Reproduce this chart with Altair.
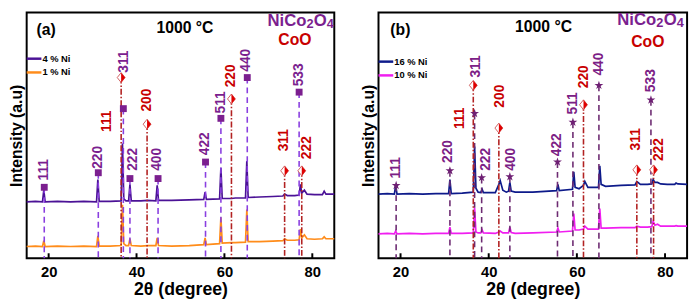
import altair as alt
import pandas as pd

FONT = "Liberation Sans"

# ---------------- spectra (2theta in degrees, intensity in a.u.) ----------------
a4_tt = [15, 17, 18.6, 18.9, 19.2, 22, 25, 28, 30.9, 31.2, 31.5, 34, 36.5, 36.8, 37.1, 37.6, 38.2, 38.5, 38.8,
         41, 42.5, 44.4, 44.7, 45.0, 48, 52, 55.3, 55.6, 55.9, 58.9, 59.2, 59.5, 61.6, 62.5, 64.8, 65.1, 65.4,
         68, 71, 73.3, 73.7, 74.3, 76, 77.0, 77.3, 77.6, 78.2, 78.8, 80.5, 82.3, 82.7, 83.1, 85]
a4_I = [58, 58.5, 58, 70, 58, 58.5, 58, 58.5, 58, 81, 58.5, 58.5, 59, 118, 61, 59, 59, 76, 59,
        59, 59.5, 59, 75, 59.5, 59.5, 60, 60.5, 68, 60.5, 61, 93, 61.5, 61.5, 62, 62, 100, 62.5,
        63, 63.5, 64, 66, 64.5, 64.5, 65, 76, 67, 70, 66, 65.5, 65.5, 69, 66, 66]

a1_tt = a4_tt
a1_I = [12, 12.5, 12, 18, 12, 12.5, 12, 12.5, 12, 23, 12.5, 12.5, 13, 55, 15, 13, 13, 20, 13,
        12.5, 13, 13, 21, 13, 12.5, 13, 14, 21, 14, 15, 42, 15.5, 16, 16, 16.5, 50, 17,
        17, 17.5, 18, 20, 18.5, 18.5, 19, 30, 21, 24, 20, 19.5, 20, 22, 20, 20]

b16_tt = [15, 17, 18.6, 18.9, 19.2, 22, 25, 28, 30.9, 31.2, 31.5, 34, 36.5, 36.8, 37.1, 37.6, 38.2, 38.5, 38.8,
          41.5, 42.3, 42.6, 43.2, 44.0, 44.5, 44.8, 45.1, 46, 50, 55.4, 55.7, 56.0, 59.0, 59.3, 59.6, 60.5,
          61.5, 61.8, 62.5, 64.9, 65.2, 65.5, 66.5, 70, 73.2, 73.6, 74.4, 76, 77.0, 77.3, 77.7, 78.3, 79,
          80.5, 82.2, 82.5, 82.9, 85]
b16_I = [66, 66.5, 66, 75, 66, 66.5, 66, 66.5, 66.5, 81, 66.5, 67, 68, 115, 72, 68, 67.5, 71, 67.5,
         67.5, 76, 80, 70, 68, 69, 78, 69, 68, 68, 69.5, 76, 69.5, 71, 89, 73, 71.5,
         75, 79, 73, 73, 95, 76, 74, 75, 75.5, 79, 76, 76, 76.5, 81, 78, 78, 76.5,
         76, 76, 77.5, 76.5, 76]

b10_tt = b16_tt
b10_I = [25, 25.5, 25, 28, 25, 25.5, 25, 25.5, 25.5, 32, 25.5, 25.5, 26, 52, 27, 26, 26, 29, 26,
         25.5, 27, 28, 26, 26, 26, 32, 26.5, 25.5, 26, 27, 31, 27, 28, 46, 29, 29,
         30, 33, 30, 30, 51, 31, 31, 31.5, 31.5, 33, 32, 32, 32.5, 38, 34, 35, 33,
         33, 33, 33.5, 33, 33]

series_a = ["4 % Ni", "1 % Ni"]
series_b = ["16 % Ni", "10 % Ni"]

# ---------------- reference peaks ----------------
nco_labels = ["111", "220", "311", "222", "400", "422", "511", "440", "533"]
coo_labels = ["111", "200", "220", "311", "222"]

a_nco_pos = [19.0, 31.3, 37.0, 38.5, 44.9, 55.7, 59.2, 65.2, 77.0]
a_nco_h = [73, 88, 154, 82, 82, 99, 144, 186, 171]
a_nco_lx = [19.0, 31.3, 37.1, 39.1, 44.6, 55.7, 59.2, 65.0, 77.0]
a_nco_ly = [80, 92, 191, 90, 90, 106, 149, 192, 177]
a_coo_pos = [36.5, 42.4, 61.6, 73.7, 77.6]
a_coo_h = [186, 138, 164, 90, 90]
a_coo_lx = [33.3, 42.5, 61.5, 73.6, 78.7]
a_coo_ly = [130, 151, 176, 110, 102]

b_nco_pos = [19.0, 31.2, 36.8, 38.4, 44.8, 55.6, 59.1, 65.0, 76.8]
b_nco_h = [75, 90, 149, 83, 84, 99, 140, 178, 163]
b_nco_lx = [19.0, 30.7, 37.2, 39.3, 45.0, 55.6, 59.1, 65.1, 76.8]
b_nco_ly = [82, 98, 186, 90, 90, 105, 148, 188, 171]
b_coo_pos = [36.5, 42.3, 61.5, 73.6, 77.4]
b_coo_h = [178, 134, 158, 91, 91]
b_coo_lx = [33.5, 42.6, 61.6, 73.4, 78.6]
b_coo_ly = [133, 155, 175, 111, 100]

tick_values = [20, 40, 60, 80]

# ---------------- styling ----------------
W_A, W_B, H = 313, 314, 250
XS = alt.Scale(domain=[15, 85], nice=False, zero=False)
YS = alt.Scale(domain=[0, 253], nice=False, zero=False)
X_TITLE = "2θ (degree)"
Y_TITLE = "Intensity (a.u)"
X_AXIS = alt.Axis(values=tick_values, ticks=False, domain=False, grid=False,
                  labelFont=FONT, labelFontSize=15, labelFontWeight="bold",
                  labelColor="black", labelPadding=7, titleFont=FONT,
                  titleFontSize=18, titleFontWeight="bold", titleColor="black",
                  titlePadding=1)
Y_AXIS = alt.Axis(labels=False, ticks=False, domain=False, grid=False,
                  titleFont=FONT, titleFontSize=16, titleFontWeight="bold",
                  titleColor="black", titlePadding=2)

DIAMOND = "M0,-1L0.8,0L0,1L-0.8,0Z"
HALF_DIAMOND = "M0,-1L0.8,0L0,1Z"
STAR = ("M0,-1L0.225,-0.309L0.951,-0.309L0.363,0.118L0.588,0.809L0,0.382"
        "L-0.588,0.809L-0.363,0.118L-0.951,-0.309L-0.225,-0.309Z")

RED_LINE = "#B22222"
RED_TXT = "#C80000"
RED_FILL = "#E00000"
NCO_TXT = "#7B1F8F"


def xq(f):
    return alt.X(f, scale=XS, title=X_TITLE, axis=X_AXIS)


def yq(f):
    return alt.Y(f, scale=YS, title=Y_TITLE, axis=Y_AXIS)


def one(text=""):
    return pd.DataFrame({"t": [text]})


def txt(text, x, y, size, color, align="left"):
    return alt.Chart(one()).mark_text(align=align, baseline="middle", font=FONT, fontSize=size,
                                      fontWeight="bold", color=color, text=text).encode(
        x=alt.value(x), y=alt.value(y))


def panel(tag, width, s_names, s_colors, spectra, nco, coo, nco_style, legend_y, pos):
    df = pd.concat([
        pd.DataFrame({"tt": spectra[0][0], "I": spectra[0][1], "s": s_names[0]}),
        pd.DataFrame({"tt": spectra[1][0], "I": spectra[1][1], "s": s_names[1]}),
    ])
    lines = alt.Chart(df).mark_line(strokeWidth=1.7).encode(
        x=xq("tt:Q"), y=yq("I:Q"),
        color=alt.Color("s:N", scale=alt.Scale(domain=s_names, range=s_colors), legend=None),
        detail="s:N",
    )

    nco_df = pd.DataFrame({"pos": nco[0], "h": nco[1], "lx": nco[2], "ly": nco[3], "lab": nco_labels})
    coo_df = pd.DataFrame({"pos": coo[0], "h": coo[1], "lx": coo[2], "ly": coo[3], "lab": coo_labels})

    nco_rule = alt.Chart(nco_df).mark_rule(color=nco_style["line"], strokeWidth=1.6,
                                          strokeDash=[6, 4]).encode(
        x=xq("pos:Q"), y=yq("h:Q"), y2=alt.datum(0))
    coo_rule = alt.Chart(coo_df).mark_rule(color=RED_LINE, strokeWidth=1.6,
                                          strokeDash=[6, 2, 1.5, 2]).encode(
        x=xq("pos:Q"), y=yq("h:Q"), y2=alt.datum(0))

    nco_pt = alt.Chart(nco_df).mark_point(shape=nco_style["shape"], filled=True, opacity=1,
                                          size=nco_style["size"], color=nco_style["marker"]).encode(
        x=xq("pos:Q"), y=yq("h:Q"))
    coo_pt = alt.Chart(coo_df).mark_point(shape=DIAMOND, filled=True, opacity=1, size=100,
                                          fill="white", stroke="#D06060", strokeWidth=1).encode(
        x=xq("pos:Q"), y=yq("h:Q"))
    coo_half = alt.Chart(coo_df).mark_point(shape=HALF_DIAMOND, filled=True, opacity=1, size=100,
                                            color=RED_FILL).encode(
        x=xq("pos:Q"), y=yq("h:Q"))

    nco_txt = alt.Chart(nco_df).mark_text(angle=270, align="left", baseline="middle", font=FONT,
                                          fontSize=14, fontWeight="bold",
                                          color=nco_style["text"]).encode(
        x=xq("lx:Q"), y=yq("ly:Q"), text="lab:N")
    coo_txt = alt.Chart(coo_df).mark_text(angle=270, align="left", baseline="middle", font=FONT,
                                          fontSize=14, fontWeight="bold", color=RED_TXT).encode(
        x=xq("lx:Q"), y=yq("ly:Q"), text="lab:N")

    ticks = alt.Chart(pd.DataFrame({"v": tick_values})).mark_rule(color="black", strokeWidth=2).encode(
        x=xq("v:Q"), y=alt.value(H), y2=alt.value(H - 5))

    nx, ny = pos["nco"]
    deco = [
        txt(tag, pos["tag"][0], pos["tag"][1], 16, "black"),
        txt("1000 °C", pos["temp"][0], pos["temp"][1], 16, "black", "center"),
        txt("NiCo", nx, ny, 17, NCO_TXT),
        txt("2", nx + 39.7, ny + 3, 13, NCO_TXT),
        txt("O", nx + 47.2, ny, 17, NCO_TXT),
        txt("4", nx + 60.4, ny + 3, 13, NCO_TXT),
        txt("CoO", pos["coo"][0], pos["coo"][1], 16, RED_TXT, "center"),
    ]
    for i in range(2):
        yy = legend_y + 14 * i
        deco.append(alt.Chart(one()).mark_rule(color=s_colors[i], strokeWidth=2.5).encode(
            x=alt.value(0), x2=alt.value(15), y=alt.value(yy)))
        deco.append(alt.Chart(one(s_names[i])).mark_text(align="left", baseline="middle", font=FONT,
                                                         fontSize=9.5, fontWeight="bold",
                                                         color="black").encode(
            x=alt.value(16), y=alt.value(yy), text="t:N"))

    return alt.layer(lines, nco_rule, coo_rule, nco_pt, coo_pt, coo_half, nco_txt, coo_txt, ticks,
                     *deco).properties(width=width, height=H)


panel_a = panel("(a)", W_A, series_a, ["#4B1296", "#FF8C1A"],
                [(a4_tt, a4_I), (a1_tt, a1_I)],
                (a_nco_pos, a_nco_h, a_nco_lx, a_nco_ly),
                (a_coo_pos, a_coo_h, a_coo_lx, a_coo_ly),
                {"line": "#8A3FE0", "shape": "square", "size": 49, "marker": "#7B1F8F",
                 "text": NCO_TXT}, 47,
                {"tag": (10, 18), "temp": (161, 16), "nco": (W_A - 68, 9), "coo": (273, 28)})
panel_b = panel("(b)", W_B, series_b, ["#0D1A8A", "#F01EF0"],
                [(b16_tt, b16_I), (b10_tt, b10_I)],
                (b_nco_pos, b_nco_h, b_nco_lx, b_nco_ly),
                (b_coo_pos, b_coo_h, b_coo_lx, b_coo_ly),
                {"line": "#6D2B72", "shape": STAR, "size": 90, "marker": "#6E1F73",
                 "text": "#7B2085"}, 50,
                {"tag": (12, 18), "temp": (168, 15), "nco": (W_B - 71, 8), "coo": (274, 30)})

chart = alt.hconcat(panel_a, panel_b, spacing=45, bounds="flush").resolve_scale(
    color="independent", x="independent", y="independent").properties(padding=0).configure_view(
    stroke="black", strokeWidth=2)

chart.save("out.html", embed_options={"renderer": "svg", "actions": False})
